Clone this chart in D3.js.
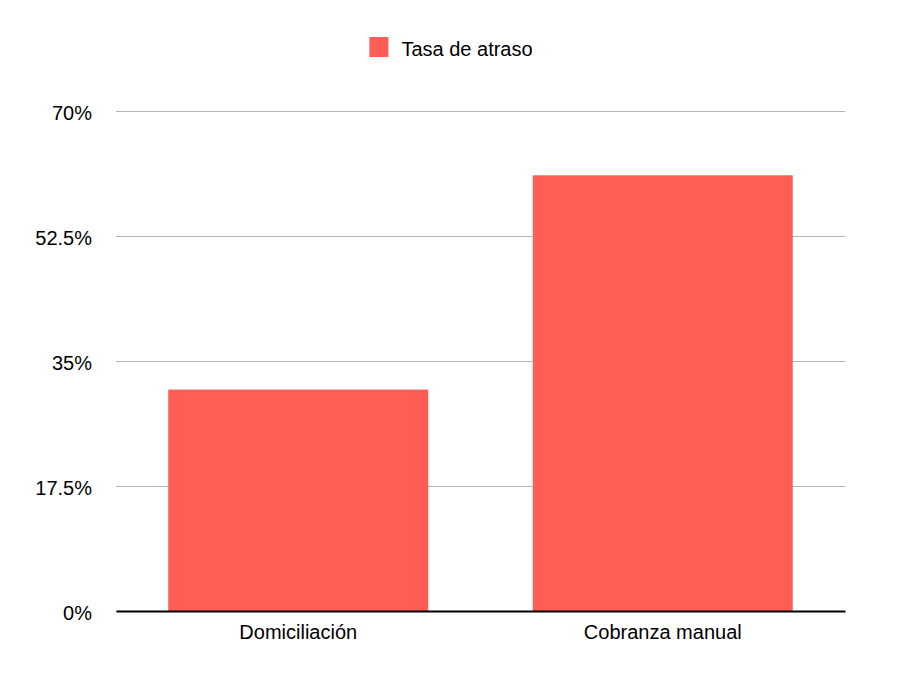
<!DOCTYPE html>
<html>
<head>
<meta charset="utf-8">
<script src="https://cdn.jsdelivr.net/npm/d3@7"></script>
<style>
  body { margin: 0; background: #fff; }
  text { font-family: "Liberation Sans", Arial, Helvetica, sans-serif; }
</style>
</head>
<body>
<script>
// data
const categories = ["Domiciliación", "Cobranza manual"]
const rates = [0.31, 0.61]
const yTicks = [0, 0.175, 0.35, 0.525, 0.7]
const yTickLabels = ["0%", "17.5%", "35%", "52.5%", "70%"]
const seriesName = "Tasa de atraso"

const outerWidth = 908, outerHeight = 673
const margin = {left:116, top:111, right:63, bottom:62}
const width = outerWidth - margin.left - margin.right
const height = outerHeight - margin.top - margin.bottom
const barColor = "#ff5e57"

const svg = d3.select("body").append("svg")
    .attr("width", outerWidth)
    .attr("height", outerHeight)

const canvas = svg.append("g")
    .attr("transform", `translate(${margin.left}, ${margin.top})`)

const x = d3.scaleBand()
    .domain(categories)
    .range([0, width])
    .paddingInner(0.2867)
    .paddingOuter(0.1433)

const y = d3.scaleLinear().domain([0, 0.7]).range([height, 0])

// gridlines + y labels
const yAxis = canvas.append("g")
    .call(d3.axisLeft(y)
        .tickValues(yTicks)
        .tickFormat((d, i) => yTickLabels[i])
        .tickSize(-width)
        .tickPadding(24))
yAxis.select(".domain").remove()
yAxis.selectAll(".tick line").attr("stroke", "#b3b3b3").attr("stroke-width", 1)
yAxis.selectAll(".tick text")
    .attr("dy", "0.4em")
    .attr("fill", "#000")
    .style("font-size", "20px")

// bars
canvas.selectAll(".bar")
    .data(categories.map((c, i) => ({cat:c, value:rates[i]})))
    .join("rect")
    .attr("class", "bar")
    .attr("x", d => x(d.cat))
    .attr("width", x.bandwidth())
    .attr("y", d => y(d.value))
    .attr("height", d => height - y(d.value))
    .attr("fill", barColor)

// bottom axis
const xAxis = canvas.append("g")
    .attr("transform", `translate(0, ${height})`)
    .call(d3.axisBottom(x).tickSize(0).tickPadding(14))
xAxis.select(".domain").attr("stroke", "#000").attr("stroke-width", 2)
xAxis.selectAll(".tick text")
    .attr("fill", "#000")
    .style("font-size", "20px")

// legend
const legend = svg.append("g")
legend.append("rect")
    .attr("width", 19)
    .attr("height", 20)
    .attr("y", 37)
    .attr("fill", barColor)
const legendText = legend.append("text")
    .attr("x", 32)
    .attr("y", 56)
    .style("font-size", "20px")
    .attr("fill", "#000")
    .text(seriesName)
const legendWidth = 32 + legendText.node().getComputedTextLength()
legend.attr("transform", `translate(${(outerWidth - legendWidth) / 2 - 3}, 0)`)
</script>
</body>
</html>
